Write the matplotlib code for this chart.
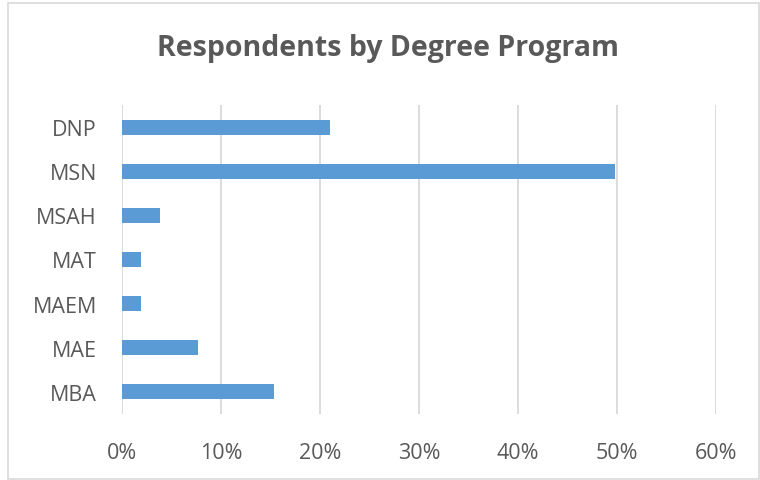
import matplotlib
matplotlib.use("Agg")
import matplotlib.pyplot as plt
from matplotlib.patches import Rectangle
from matplotlib.ticker import FuncFormatter

categories = ["DNP", "MSN", "MSAH", "MAT", "MAEM", "MAE", "MBA"]
values = [21.0, 49.8, 3.8, 1.9, 1.9, 7.7, 15.4]
xticks = [0, 10, 20, 30, 40, 50, 60]
title = "Respondents by Degree Program"

plt.rcParams['font.family'] = ['Open Sans', 'DejaVu Sans']
gray = "#595959"

fig = plt.figure(figsize=(7.6, 4.81), dpi=100)
fig.patches.append(Rectangle((8/760, 1/481), 751/760, 476/481, transform=fig.transFigure,
                             fill=False, edgecolor="#D9D9D9", linewidth=1.2))
ax = fig.add_axes([122/760, 1 - 415/481, 594/760, 309/481])

ypos = list(range(len(categories)))
ax.barh(ypos, values, height=0.34, color="#5B9BD5", zorder=3)
ax.set_yticks(ypos)
ax.set_yticklabels(categories)
ax.set_ylim(len(categories) - 0.5, -0.5)
ax.set_xlim(0, 60)
ax.set_xticks(xticks)
ax.xaxis.set_major_formatter(FuncFormatter(lambda v, p: f"{int(v)}%"))
ax.grid(axis='x', color="#D9D9D9", linewidth=1.3, zorder=0)
for s in ax.spines.values():
    s.set_visible(False)
ax.tick_params(axis='both', length=0, labelsize=15.5, labelcolor=gray)
ax.tick_params(axis='y', pad=18)
ax.tick_params(axis='x', pad=20)

fig.text(388/760, 1 - 49/481, title, ha='center', va='center', fontsize=20.5,
         fontweight='bold', color=gray)

fig.savefig("out.png", dpi=100)
